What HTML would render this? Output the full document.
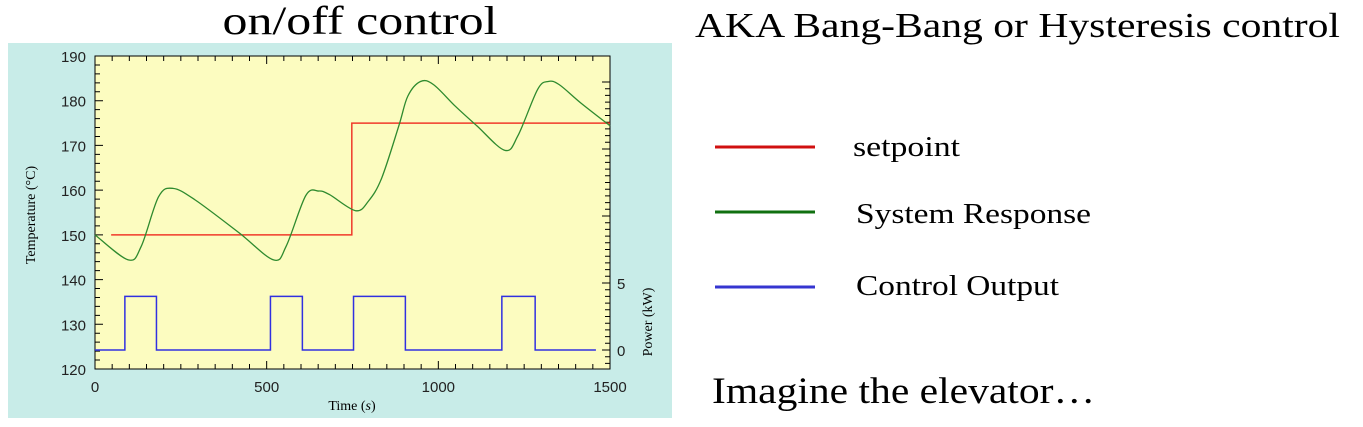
<!DOCTYPE html>
<html><head><meta charset="utf-8"><style>
html,body{margin:0;padding:0;background:#fff;width:1363px;height:427px;overflow:hidden}
svg{display:block;font-family:"Liberation Serif",serif}
</style></head><body>
<svg id="svg" width="1363" height="427" viewBox="0 0 1363 427">
<text x="360" y="34" font-size="40" text-anchor="middle" textLength="275" lengthAdjust="spacingAndGlyphs">on/off control</text>
<rect x="8" y="43" width="664" height="375" fill="#c8ece8"/>
<rect x="95" y="56" width="515" height="313" fill="#fcfcc0" stroke="#000" stroke-width="1"/>
<g id="ticks"></g>
<g id="marks"></g>
<text transform="translate(35,215) rotate(-90)" font-size="14" text-anchor="middle">Temperature (°C)</text>
<text transform="translate(652,322) rotate(-90)" font-size="14" text-anchor="middle">Power (kW)</text>
<text x="352" y="410" font-size="14" text-anchor="middle">Time (<tspan font-style="italic">s</tspan>)</text>
<text x="695" y="37" font-size="35" textLength="645" lengthAdjust="spacingAndGlyphs">AKA Bang-Bang or Hysteresis control</text>
<g>
<line x1="715" y1="147" x2="815" y2="147" stroke="#d01010" stroke-width="3"/>
<text x="853" y="156" font-size="28" textLength="107" lengthAdjust="spacingAndGlyphs">setpoint</text>
<line x1="715" y1="212" x2="815" y2="212" stroke="#107010" stroke-width="3"/>
<text x="856" y="223" font-size="28" textLength="235" lengthAdjust="spacingAndGlyphs">System Response</text>
<line x1="715" y1="287" x2="815" y2="287" stroke="#3535d0" stroke-width="3"/>
<text x="856" y="295" font-size="28" textLength="203" lengthAdjust="spacingAndGlyphs">Control Output</text>
</g>
<text x="712" y="403" font-size="37" textLength="383" lengthAdjust="spacingAndGlyphs">Imagine the elevator…</text>
</svg>
<script>
const respTime=[0,97,135,185,227,292,419,520,557,614,652,683,759,797,835,885,911,948,986,1049,1112,1194,1232,1289,1320,1352,1415,1500];
const respTemp=[150,144.4,147.5,158.5,160.4,157.8,150.5,144.4,147.5,158.8,159.8,159,155.4,157.6,162.7,174.4,181,184.3,183.6,178.8,174.4,168.9,172.2,182.5,184.3,183.6,179.5,174.4];
const setTime=[47,748,748,1500];
const setTemp=[150,150,175,175];
const pulseOn=[87,511,753,1185];
const pulseOff=[179,604,904,1282];
const powerHigh=4;
const powerEnd=1459;
const xTicks=[0,500,1000,1500];
const yTicks=[120,130,140,150,160,170,180,190];
const y2Ticks=[0,5];

const NS="http://www.w3.org/2000/svg";
const X=t=>95+t*515/1500;
const Y=v=>369-(v-120)*313/70;
const P=p=>350-p*67/5;
const ticks=document.getElementById('ticks'), marks=document.getElementById('marks');
function mk(tag,attrs,parent){const e=document.createElementNS(NS,tag);for(const k in attrs)e.setAttribute(k,attrs[k]);parent.appendChild(e);return e;}
let d='';
for(let t=0;t<=1500;t+=50){const x=X(t),L=t%500===0?8:5;d+=`M${x},369v${-L}M${x},56v${L}`;}
for(let v=120;v<=190;v+=2){const y=Y(v),L=v%10===0?8:5;d+=`M95,${y}h${L}`;}
for(let p=-1.5;p<=20;p+=0.5){const y=P(p);if(y<56||y>369)continue;const L=Math.abs(p%5)<1e-9?8:5;d+=`M610,${y}h${-L}`;}
const tp=mk('path',{d:d,stroke:'#000','stroke-width':1,fill:'none'},ticks);


xTicks.forEach(t=>{const e=mk('text',{x:X(t),y:392,'font-size':15,'font-family':'Liberation Sans, sans-serif','text-anchor':'middle',fill:'#222'},ticks);e.textContent=t;

});
yTicks.forEach(v=>{const e=mk('text',{x:86,y:Y(v)+6,'font-size':15,'font-family':'Liberation Sans, sans-serif','text-anchor':'end',fill:'#222'},ticks);e.textContent=v;

});
y2Ticks.forEach(p=>{const e=mk('text',{x:617,y:P(p)+6,'font-size':15,'font-family':'Liberation Sans, sans-serif',fill:'#222'},ticks);e.textContent=p;

});
const sp=mk('polyline',{points:setTime.map((t,i)=>X(t)+','+Y(setTemp[i])).join(' '),fill:'none',stroke:'#f03a2a','stroke-width':1.5},marks);


let pts=respTime.map((t,i)=>[X(t),Y(respTemp[i])]);
let pd='M'+pts[0];
for(let i=0;i<pts.length-1;i++){const p0=pts[Math.max(0,i-1)],p1=pts[i],p2=pts[i+1],p3=pts[Math.min(pts.length-1,i+2)];
pd+=`C${p1[0]+(p2[0]-p0[0])/6},${p1[1]+(p2[1]-p0[1])/6} ${p2[0]-(p3[0]-p1[0])/6},${p2[1]-(p3[1]-p1[1])/6} ${p2[0]},${p2[1]}`;}
const rp=mk('path',{d:pd,fill:'none',stroke:'#2e8a2e','stroke-width':1.3},marks);


let cd=`M${X(0)},${P(0)}`;
pulseOn.forEach((on,i)=>{cd+=`H${X(on)}V${P(powerHigh)}H${X(pulseOff[i])}V${P(0)}`;});
cd+=`H${X(powerEnd)}`;
const cp=mk('path',{d:cd,fill:'none',stroke:'#3030e0','stroke-width':1.5},marks);


</script>
</body></html>
